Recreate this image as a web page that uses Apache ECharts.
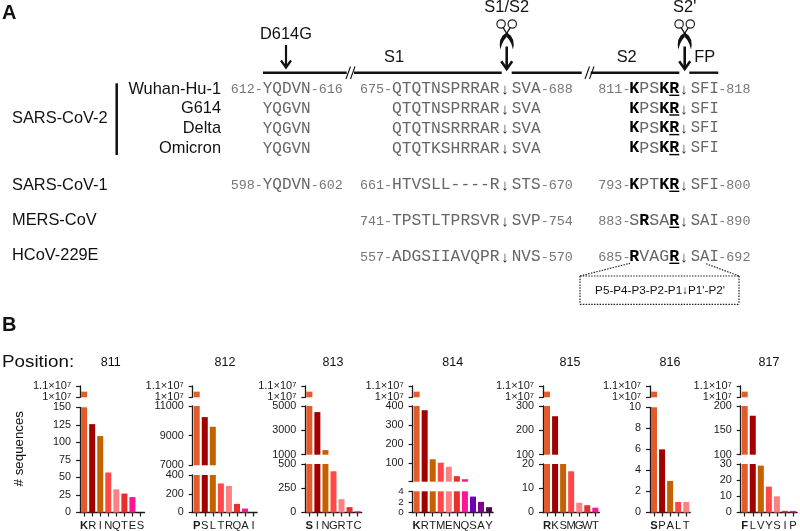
<!DOCTYPE html>
<html>
<head>
<meta charset="utf-8">
<style>html,body{margin:0;padding:0;background:#fff}#c{width:800px;height:531px}</style>
<script src="https://cdn.jsdelivr.net/npm/echarts@6/dist/echarts.min.js"></script>
</head>
<body>
<div id="c"></div>
<script>
// ---------- Panel B data ----------
const huge = 10500000;
const letters811 = ['K','R','I','N','Q','T','E','S'];
const counts811  = [huge,126,109,57,33,27,22,0];
const letters812 = ['P','S','L','T','R','Q','A','I'];
const counts812  = [huge,10250,9600,310,283,92,42,0];
const letters813 = ['S','I','N','G','R','T','C'];
const counts813  = [huge,4500,1380,425,137,55,12];
const letters814 = ['K','R','T','M','E','N','Q','S','A','Y'];
const counts814  = [huge,378,122,104,83,34,18,3,2,1];
const letters815 = ['R','K','S','M','G','W','T'];
const counts815  = [huge,258,30,17,4,3,2];
const letters816 = ['S','P','A','L','T'];
const counts816  = [huge,6,3,1,1];
const letters817 = ['F','L','V','Y','S','I','P'];
const counts817  = [huge,180,29,16,10,1,1];
const positions  = ['811','812','813','814','815','816','817'];

// ---------- Panel A text ----------
const strainLabels = ['Wuhan-Hu-1','G614','Delta','Omicron'];
const otherLabels  = ['SARS-CoV-1','MERS-CoV','HCoV-229E'];
const col1Rows = ['612-|YQDVN|-616','|YQGVN|','|YQGVN|','|YQGVN|','598-|YQDVN|-602','','' ];
const col2Rows = ['675-|QTQTNSPRRAR|SVA|-688','|QTQTNSPRRAR|SVA|','|QTQTNSRRRAR|SVA|','|QTQTKSHRRAR|SVA|',
                  '661-|HTVSLL----R|STS|-670','741-|TPSTLTPRSVR|SVP|-754','557-|ADGSIIAVQPR|NVS|-570'];
const col3Rows = ['811-|*K*PS*KR*|SFI|-818','|*K*PS*KR*|SFI|','|*K*PS*KR*|SFI|','|*K*PS*KR*|SFI|',
                  '793-|*K*PT*KR*|SFI|-800','883-|S*R*SA*R*|SAI|-890','685-|*R*VAG*R*|SAI|-692'];

// ---------- Layout (not data) ----------
const SANS = '"Liberation Sans",Arial,sans-serif';
const MONO = '"Liberation Mono","Courier New",monospace';
const TOP = {min:1e7,max:1.1e7,y0:397.3,y1:386,ticks:[1e7,1.1e7]};
const panels = [
 {left:80.1, title:110.7,cats:letters811,vals:counts811,segs:[{min:0,max:150,y0:512.7,y1:407.3,ticks:[0,25,50,75,100,125,150]},TOP]},
 {left:192.7,title:225,  cats:letters812,vals:counts812,segs:[{min:0,max:400,y0:512.7,y1:475,ticks:[0,200,400]},{min:7000,max:11000,y0:465.3,y1:406,ticks:[7000,9000,11000]},TOP]},
 {left:305.3,title:333,  cats:letters813,vals:counts813,segs:[{min:0,max:500,y0:512.7,y1:464,ticks:[0,250,500]},{min:1000,max:5000,y0:454.7,y1:406,ticks:[1000,3000,5000]},TOP]},
 {left:412.6,title:452.7,cats:letters814,vals:counts814,segs:[{min:0,max:4,y0:512.7,y1:491.3,ticks:[0,2,4],fs:9.8},{min:5,max:400,y0:481.7,y1:406,ticks:[5,100,200,300,400],hide:[5]},TOP]},
 {left:543,  title:570,  cats:letters815,vals:counts815,segs:[{min:0,max:20,y0:512.7,y1:464,ticks:[0,10,20]},{min:100,max:300,y0:454.7,y1:406,ticks:[100,200,300]},TOP]},
 {left:650,  title:670,  cats:letters816,vals:counts816,segs:[{min:0,max:10,y0:512.7,y1:407.3,ticks:[0,2,4,6,8,10]},TOP]},
 {left:740.7,title:769,  cats:letters817,vals:counts817,segs:[{min:0,max:30,y0:512.7,y1:464,ticks:[0,10,20,30]},{min:100,max:200,y0:454.7,y1:406,ticks:[100,150,200]},TOP]}
];
const pitch = 8.05;
const palette = ['#E35A2B','#A00000','#C46200','#FF4848','#FF8080','#E6302A','#FF1493','#6A00B8','#800090','#4A0A48'];

// ---------- Build the charts ----------
const grids=[],xAxes=[],yAxes=[],series=[];
const fmtY = v => v===1e7 ? '{a|1×10}{s|7}' : v===1.1e7 ? '{a|1.1×10}{s|7}' : String(v);
const black='#1a1a1a';
panels.forEach(p=>{
  p.segs.forEach((s,si)=>{
    const g=grids.length;
    grids.push({left:p.left,width:p.cats.length*pitch,top:s.y1,height:s.y0-s.y1,containLabel:false});
    xAxes.push({type:'category',gridIndex:g,data:p.cats,
      axisLine:{show:si===0,lineStyle:{color:black,width:1.3}},
      axisTick:{show:si===0,alignWithLabel:true,length:4,lineStyle:{color:black,width:1.2}},
      axisLabel:{show:si===0,interval:0,margin:7.5,fontFamily:SANS,fontSize:11.2,color:black,
        formatter:(v,i)=>i===0?'{b|'+v+'}':v,rich:{b:{fontWeight:'bold',fontFamily:SANS,fontSize:11.2,color:black}}}});
    const labelVals=s.ticks.filter(t=>!(s.hide||[]).includes(t));
    yAxes.push({type:'value',gridIndex:g,min:s.min,max:s.max,splitLine:{show:false},
      axisLine:{show:true,lineStyle:{color:black,width:1.3}},
      axisTick:{show:true,length:4,customValues:s.ticks,lineStyle:{color:black,width:1.2}},
      axisLabel:{show:true,margin:9,hideOverlap:false,customValues:labelVals,fontFamily:SANS,fontSize:s.fs||10.8,color:black,formatter:fmtY,
        rich:{a:{fontFamily:SANS,fontSize:11,color:black,lineHeight:11},s:{fontFamily:SANS,fontSize:7.5,color:black,verticalAlign:'top',lineHeight:11,padding:[0,0,3,0]}}}});
    series.push({type:'bar',xAxisIndex:g,yAxisIndex:g,barWidth:6,clip:true,silent:true,animation:false,
      data:p.vals.map(v=>v>s.min?v:null),
      itemStyle:{color:c=>palette[c.dataIndex]}});
  });
});

// ---------- Graphic annotations ----------
const els=[];
const txt=(text,x,y,o={})=>els.push({type:'text',silent:true,x,y,rotation:o.rot||0,scaleX:o.sx||1,style:{text,x:0,y:0,
  font:(o.bold?'bold ':'')+(o.size||16.4)+'px '+(o.font||SANS),fill:o.fill||'#111',
  textAlign:o.align||'left',textVerticalAlign:'middle'}});
const ln=(x1,y1,x2,y2,w=2.5,o={})=>els.push({type:'line',silent:true,shape:{x1,y1,x2,y2},
  style:{stroke:o.c||'#111',lineWidth:w,lineDash:o.dash||null,lineCap:o.cap||'butt'}});

txt('A',2,13,{bold:true,size:20});
txt('B',2,325,{bold:true,size:20});

// backbone
[[263,346.7],[354,501.7],[511.7,581.7],[590.7,679.3],[689.3,718.3]].forEach(s=>ln(s[0],72.7,s[1],72.7,2.4));
[346,350.5,585,589.5].forEach(x=>ln(x,79,x+4.5,66.5,1.1));

// labels above backbone
txt('D614G',286,34,{align:'center'});
txt('S1',394,57,{align:'center'});
txt('S1/S2',506.7,7.6,{align:'center'});
txt('S2',626.7,57.7,{align:'center'});
txt("S2'",684.7,7.6,{align:'center'});
txt('FP',704.7,57.5,{align:'center'});

// arrows
const arrow=(x,y1,y2,w,hw)=>{ln(x,y1,x,y2-1,w);
  els.push({type:'polyline',silent:true,shape:{points:[[x-hw,y2-hw*1.4],[x,y2],[x+hw,y2-hw*1.4]]},style:{stroke:'#111',fill:null,lineWidth:w}});};
arrow(286,45,67.5,2.2,5);
arrow(506.7,46.5,69,2.6,5.5);
arrow(684.7,46.5,69,2.6,5.5);

// scissors
const scissors=cx=>{
  els.push({type:'circle',silent:true,shape:{cx:cx-5.6,cy:24,r:4.2},style:{stroke:'#222',fill:null,lineWidth:1.2}});
  els.push({type:'circle',silent:true,shape:{cx:cx+5.6,cy:24,r:4.2},style:{stroke:'#222',fill:null,lineWidth:1.2}});
  ln(cx-3.6,27.5,cx+1.5,36,1.4); ln(cx+3.6,27.5,cx-1.5,36,1.4);
  [-1,1].forEach(d=>els.push({type:'polygon',silent:true,shape:{points:[[cx,32.5],[cx+d*4,35.5],[cx+d*6.5,40],[cx+d*7,45],[cx+d*6.3,49.5],[cx+d*4.7,44],[cx+d*2.6,40],[cx,37]]},style:{fill:'#111'}}));
};
scissors(506.7); scissors(684.7);

// row labels
const rowY=[89,108.7,128.3,148.3,185,221,257];
strainLabels.forEach((s,i)=>txt(s,221,rowY[i],{align:'right'}));
txt('SARS-CoV-2',12,118);
otherLabels.forEach((s,i)=>txt(s,12,[185,220.5,255.5][i]));
ln(116.7,83.3,116.7,155,2.5);

// alignment columns
const SEQ='#666', NUM='#777';
const seq=(s,x,y,o={})=>s&&txt(s,x,y,{font:MONO,fill:o.fill||SEQ,size:o.size||16,bold:o.bold});
const num=(s,x,y)=>s&&txt(s,x,y,{font:MONO,fill:NUM,size:13.4});
const arrowChar=(x,y)=>txt('↓',x,y+1,{font:SANS,fill:'#333',size:15,align:'center'});
col1Rows.forEach((r,i)=>{ if(!r)return; const [a,b,c]=r.split('|');
  num(a,230.7,rowY[i]); seq(b,262.7,rowY[i]); num(c,310.7,rowY[i]);});
col2Rows.forEach((r,i)=>{ const [a,b,c,d]=r.split('|');
  num(a,360,rowY[i]); seq(b,392,rowY[i],{size:16.3}); arrowChar(505,rowY[i]); seq(c,511.7,rowY[i]); num(d,540.7,rowY[i]);});
col3Rows.forEach((r,i)=>{ const [a,b,c,d]=r.split('|');
  num(a,598.3,rowY[i]);
  let x=629.3;
  b.split('*').forEach((part,k)=>{ if(!part)return;
    seq(part,x,rowY[i],{bold:k%2===1,fill:k%2===1?'#000':SEQ,size:16.6});
    x+=part.length*10;});
  ln(669.3,rowY[i]+6.3,679.3,rowY[i]+6.3,1.4,{c:'#000'});
  arrowChar(684,rowY[i]); seq(c,690.7,rowY[i],{size:15.6}); num(d,718.3,rowY[i]);});

// P5..P2' call-out
const dot=[1.5,1.3];
[[580,276,739,276],[580,304.3,739,304.3],[580,276,580,304.3],[739,276,739,304.3],[580,276,630,263.3],[739,276,705,263.3]]
  .forEach(l=>ln(l[0],l[1],l[2],l[3],1.2,{dash:dot,c:'#222'}));
txt("P5-P4-P3-P2-P1↓P1'-P2'",660,290.7,{size:11.7,align:'center'});

// panel B headers
txt('Position:',2,362.5,{size:16.5,sx:1.14});
panels.forEach((p,i)=>txt(positions[i],p.title,362.7,{size:12.5,align:'center'}));
txt('# sequences',19,448.7,{size:13.3,align:'center',rot:Math.PI/2});

const chart=echarts.init(document.getElementById('c'),null,{renderer:'canvas'});
chart.setOption({animation:false,backgroundColor:'#fff',grid:grids,xAxis:xAxes,yAxis:yAxes,series:series,graphic:{elements:els}});
</script>
</body>
</html>
